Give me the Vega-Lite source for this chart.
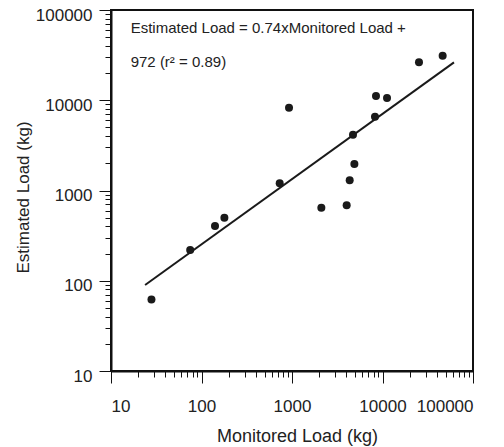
{
  "$schema": "https://vega.github.io/schema/vega-lite/v6.json",
  "width": 362,
  "height": 361,
  "autosize": {"type": "none"},
  "padding": {"left": 111, "top": 10, "right": 31, "bottom": 76},
  "background": "white",
  "config": {
    "view": {"stroke": "#111111", "strokeWidth": 2},
    "font": "Liberation Sans",
    "axis": {
      "grid": false,
      "domainColor": "#111111",
      "domainWidth": 2,
      "tickColor": "#111111",
      "tickWidth": 1,
      "labelColor": "#222222",
      "titleColor": "#222222",
      "labelFont": "Liberation Sans",
      "titleFont": "Liberation Sans",
      "labelFontSize": 17,
      "titleFontSize": 18,
      "titleFontWeight": "normal",
      "labelOverlap": false,
      "labelBound": false
    }
  },
  "datasets": {
    "points": [
      {"monitored": 28, "estimated": 62},
      {"monitored": 75, "estimated": 219},
      {"monitored": 141, "estimated": 405},
      {"monitored": 179, "estimated": 500},
      {"monitored": 731, "estimated": 1200},
      {"monitored": 927, "estimated": 8260},
      {"monitored": 2110, "estimated": 646},
      {"monitored": 4018, "estimated": 686},
      {"monitored": 4340, "estimated": 1297},
      {"monitored": 4720, "estimated": 4150},
      {"monitored": 4890, "estimated": 1970},
      {"monitored": 8260, "estimated": 6580},
      {"monitored": 8470, "estimated": 11140},
      {"monitored": 11220, "estimated": 10590},
      {"monitored": 25300, "estimated": 26300},
      {"monitored": 46200, "estimated": 31200}
    ],
    "fit": [
      {"monitored": 23.8, "estimated": 89.8},
      {"monitored": 61660, "estimated": 26300}
    ],
    "note": [
      {"monitored": 16.5, "estimated": 55200, "label": "Estimated Load = 0.74xMonitored Load +"},
      {"monitored": 16.5, "estimated": 23550, "label": "972 (r² = 0.89)"}
    ]
  },
  "layer": [
    {
      "data": {"name": "points"},
      "mark": {"type": "circle", "size": 64, "color": "#1a1a1a", "opacity": 1},
      "encoding": {
        "x": {
          "field": "monitored",
          "type": "quantitative",
          "scale": {"type": "log", "domain": [10, 100000], "nice": false},
          "axis": {
            "orient": "bottom",
            "values": [10,20,30,40,50,60,70,80,90,100,200,300,400,500,600,700,800,900,1000,2000,3000,4000,5000,6000,7000,8000,9000,10000,20000,30000,40000,50000,60000,70000,80000,90000,100000],
            "format": "d",
            "labelExpr": "indexof([10,100,1000,10000,100000], datum.value) >= 0 ? datum.label : ''",
            "tickSize": {"condition": {"test": "indexof([10,100,1000,10000,100000], datum.value) >= 0", "value": 12}, "value": 6},
            "labelPadding": 15,
            "title": "Monitored Load (kg)",
            "titleX": 186,
            "titleY": 65,
            "titleBaseline": "middle"
          }
        },
        "y": {
          "field": "estimated",
          "type": "quantitative",
          "scale": {"type": "log", "domain": [10, 100000], "nice": false},
          "axis": {
            "orient": "left",
            "values": [10,20,30,40,50,60,70,80,90,100,200,300,400,500,600,700,800,900,1000,2000,3000,4000,5000,6000,7000,8000,9000,10000,20000,30000,40000,50000,60000,70000,80000,90000,100000],
            "format": "d",
            "labelExpr": "indexof([10,100,1000,10000,100000], datum.value) >= 0 ? datum.label : ''",
            "tickSize": {"condition": {"test": "indexof([10,100,1000,10000,100000], datum.value) >= 0", "value": 12}, "value": 6},
            "labelPadding": 7,
            "labelOffset": 5,
            "title": "Estimated Load (kg)",
            "titleFontSize": 17,
            "titleX": -88,
            "titleY": 187,
            "titleBaseline": "middle"
          }
        }
      }
    },
    {
      "data": {"name": "fit"},
      "mark": {"type": "line", "color": "#1a1a1a", "strokeWidth": 2},
      "encoding": {
        "x": {"field": "monitored", "type": "quantitative"},
        "y": {"field": "estimated", "type": "quantitative"}
      }
    },
    {
      "data": {"name": "note"},
      "mark": {"type": "text", "align": "left", "baseline": "alphabetic", "fontSize": 15, "font": "Liberation Sans", "color": "#222222"},
      "encoding": {
        "x": {"field": "monitored", "type": "quantitative"},
        "y": {"field": "estimated", "type": "quantitative"},
        "text": {"field": "label"}
      }
    }
  ]
}
